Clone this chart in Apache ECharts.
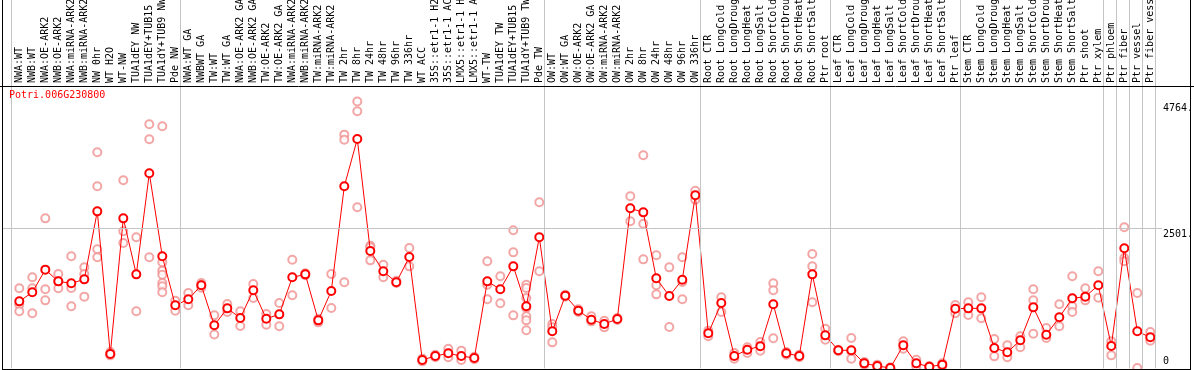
<!DOCTYPE html>
<html><head><meta charset="utf-8">
<script src="https://cdn.jsdelivr.net/npm/echarts@6/dist/echarts.min.js"></script>
<style>html,body{margin:0;padding:0;background:#fff;overflow:hidden}#c{width:1194px;height:370px}</style>
</head><body><div id="c"></div>
<script>
const geneTitle = 'Potri.006G230800';
const categories = [
  'NWA:WT','NWB:WT','NWA:OE-ARK2','NWB:OE-ARK2','NWA:miRNA-ARK2','NWB:miRNA-ARK2','NW 0hr','WT H2O','WT-NW','TUA1dEY NW',
  'TUA1dEY+TUB15','TUA1dY+TUB9 NW','Pde NW','NWA:WT GA','NWBWT GA','TW:WT','TW:WT GA','NWA:OE-ARK2 GA','NWB:OE-ARK2 GA','TW:OE-ARK2',
  'TW:OE-ARK2 GA','NWA:miRNA-ARK2','NWB:miRNA-ARK2','TW:miRNA-ARK2','TW:miRNA-ARK2','TW 2hr','TW 8hr','TW 24hr','TW 48hr','TW 96hr',
  'TW 336hr','WT ACC','35S::etr1-1 H2O','35S::etr1-1 ACC','LMX5::etr1-1 H2O','LMX5::etr1-1 ACC','WT-TW','TUA1dEY TW','TUA1dEY+TUB15','TUA1dY+TUB9 TW',
  'Pde TW','OW:WT','OW:WT GA','OW:OE-ARK2','OW:OE-ARK2 GA','OW:miRNA-ARK2','OW:miRNA-ARK2','OW 2hr','OW 8hr','OW 24hr',
  'OW 48hr','OW 96hr','OW 336hr','Root CTR','Root LongCold','Root LongDrought','Root LongHeat','Root LongSalt','Root ShortCold','Root ShortDrought',
  'Root ShortHeat','Root ShortSalt','Ptr root','Leaf CTR','Leaf LongCold','Leaf LongDrought','Leaf LongHeat','Leaf LongSalt','Leaf ShortCold','Leaf ShortDrought',
  'Leaf ShortHeat','Leaf ShortSalt','Ptr leaf','Stem CTR','Stem LongCold','Stem LongDrought','Stem LongHeat','Stem LongSalt','Stem ShortCold','Stem ShortDrought',
  'Stem ShortHeat','Stem ShortSalt','Ptr shoot','Ptr xylem','Ptr phloem','Ptr fiber','Ptr vessel','Ptr fiber vessel'
];
const meanValues = [
  1197,1358,1763,1554,1519,1590,2804,257,2679,1679,
  3483,2001,1126,1233,1483,769,1072,900,1394,888,
  965,1626,1679,858,1382,3251,4096,2096,1733,1537,
  1989,150,221,269,221,186,1554,1412,1822,1108,
  2340,662,1299,1031,870,793,882,2858,2786,1608,
  1293,1584,3090,626,1168,221,334,394,1144,269,
  221,1679,590,323,323,90,43,7,412,90,
  31,67,1066,1072,1072,364,287,501,1090,602,
  912,1251,1281,1483,400,2144,662,555
];
const replicateValues = [
  [1430,1138,1019],[1626,1430,983],[2679,1412,1215],[1685,1554,1430],[2001,1435,1108],
  [1804,1685,1281],[3858,3251,2126,1983],[293,257,233],[3358,2447,2239],[2340,1019],
  [4358,4090,1983],[4322,1894,1745,1674,1525,1465,1358],[1209,1031],[1346,1126],[1525,1483,1441],
  [947,604],[1150,1007],[1019,757],[1507,1257],[971,781],
  [1168,751],[1941,1305],[1697,1662],[888,822],[1685,1078],
  [4173,4084,1537],[4764,4590,2876],[2191,2162,1929],[1852,1626],[1566,1525],
  [2150,1822],[174,126],[245,198],[352,198],[317,150],
  [209,162],[1912,1495,1233],[1644,1162],[2465,2072,947],[1495,1435,1257,1078,930,858,680],
  [2965,1733],[793,733,465],[1316,1281],[1055,1007],[930,840],
  [852,733],[900,864],[3072,2626],[3804,2584,1947],[2019,1483,1322],
  [1804,739],[1983,1543,1233],[3173,3013],[674,573],[1269,1007],
  [275,174],[376,275],[471,317],[1519,1394,537],[293,245],
  [245,198],[2043,1822,1180],[709,513],[334,305],[543,305,174],
  [114,67],[67,19],[19,0],[483,352],[156,31],
  [43,19],[90,43],[1132,983],[1180,953],[1269,894],
  [525,215],[412,198],[573,376],[1412,1215,620],[721,543],
  [1144,751],[1644,1108,1007],[1430,1215],[1733,1263],[483,233],
  [2519,1971,1912],[1346,7],[650,495]
];
const yTickValues = [0, 2501, 4764];
const yTickLabels = ['0', '2501.', '4764.'];
const gridLineValue = 2501;
const groupBoundaries = [0, 13, 41, 53, 63, 73, 84, 85, 86, 87, 88];

const MONO = 'DejaVu Sans Mono';
const replicatePoints = [];
replicateValues.forEach((arr, i) => arr.forEach(v => replicatePoints.push([i, v])));

const chart = echarts.init(document.getElementById('c'), null, {renderer: 'canvas'});
chart.setOption({
  animation: false,
  backgroundColor: '#ffffff',
  title: {
    text: geneTitle, left: 9, top: 90, padding: 0,
    textStyle: {color: '#ff0000', fontSize: 10, fontFamily: MONO, fontWeight: 'normal'}
  },
  grid: [
    {left: 12.8, width: 1144, top: 88, height: 280.4, containLabel: false, outerBoundsMode: 'none'},
    {left: 2, width: 1160, top: 0, height: 368.4, containLabel: false, outerBoundsMode: 'none'}
  ],
  xAxis: [
    {
      gridIndex: 0, type: 'category', data: categories, position: 'top', boundaryGap: true,
      axisLine: {show: false}, axisTick: {show: false}, splitLine: {show: false},
      axisLabel: {interval: 0, rotate: 90, margin: 5, fontSize: 10, fontFamily: MONO, color: '#000'}
    },
    {
      gridIndex: 1, type: 'value', min: -0.7308, max: 88.5, show: false,
      splitLine: {show: false}
    }
  ],
  yAxis: [
    {gridIndex: 0, type: 'value', min: 0, max: 5006, show: false, splitLine: {show: false}},
    {
      gridIndex: 1, type: 'value', min: 0, max: 6577, position: 'right',
      axisLine: {show: false}, axisTick: {show: false}, splitLine: {show: false},
      axisLabel: {
        customValues: yTickValues, margin: 1, fontSize: 10, fontFamily: MONO, color: '#000',
        formatter: function (v) {
          const i = yTickValues.indexOf(v);
          const t = i >= 0 ? yTickLabels[i] : String(v);
          return v === 0 ? '{b|' + t + '}' : '{a|' + t + '}';
        },
        rich: {
          a: {padding: [13, 0, 0, 0], fontSize: 10, fontFamily: MONO, color: '#000'},
          b: {padding: [0, 0, 13, 0], fontSize: 10, fontFamily: MONO, color: '#000'}
        }
      }
    }
  ],
  series: [
    {
      type: 'line', xAxisIndex: 1, yAxisIndex: 1, data: [], silent: true,
      markLine: {
        silent: true, symbol: ['none', 'none'], animation: false,
        label: {show: false},
        lineStyle: {color: '#c4c4c4', width: 1, type: 'solid'},
        emphasis: {disabled: true},
        data: groupBoundaries.map(b => ({xAxis: b})).concat([{yAxis: gridLineValue}])
      }
    },
    {
      type: 'scatter', xAxisIndex: 0, yAxisIndex: 0, data: replicatePoints, clip: false,
      symbol: 'emptyCircle', symbolSize: 8,
      itemStyle: {color: '#f09090', borderColor: '#f09090', borderWidth: 1.2},
      z: 3
    },
    {
      type: 'line', xAxisIndex: 0, yAxisIndex: 0, data: meanValues, clip: false,
      symbol: 'emptyCircle', symbolSize: 8, showAllSymbol: true,
      lineStyle: {color: '#ff0000', width: 1},
      itemStyle: {color: '#ff0000', borderColor: '#ff0000', borderWidth: 1.6},
      z: 4
    }
  ],
  graphic: [
    {type: 'line', shape: {x1: 0, y1: 86.5, x2: 1194, y2: 86.5}, style: {stroke: '#000', lineWidth: 1}, z: 10},
    {type: 'line', shape: {x1: 2, y1: 369.5, x2: 1190, y2: 369.5}, style: {stroke: '#000', lineWidth: 1}, z: 10},
    {type: 'line', shape: {x1: 2.5, y1: 0, x2: 2.5, y2: 370}, style: {stroke: '#000', lineWidth: 1}, z: 10},
    {type: 'line', shape: {x1: 1190.5, y1: 0, x2: 1190.5, y2: 370}, style: {stroke: '#000', lineWidth: 1}, z: 10}
  ]
});
</script>
</body></html>
